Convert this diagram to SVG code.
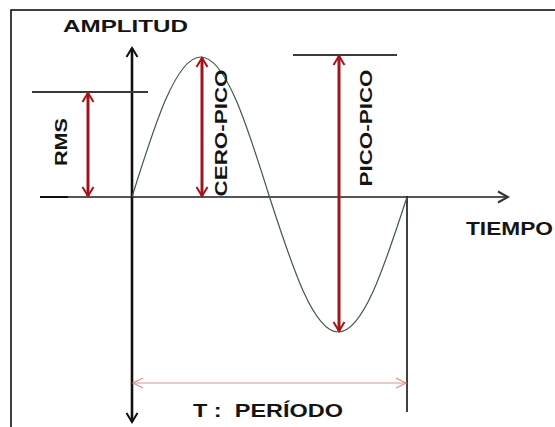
<svg xmlns="http://www.w3.org/2000/svg" width="555" height="427" viewBox="0 0 555 427">
<style>
text{font-family:"Liberation Sans",Arial,sans-serif;font-weight:bold;fill:#141414;}
.red{stroke:#a3141a;stroke-width:3;fill:none;marker-start:url(#ra);marker-end:url(#ra);}
.ref{stroke:#3a3a3a;stroke-width:2;fill:none;}
</style>
<defs>
<marker id="ra" viewBox="-11 -7 13 14" markerWidth="13" markerHeight="14" refX="0" refY="0" orient="auto-start-reverse" markerUnits="userSpaceOnUse">
<path d="M-9 -5.5 L0 0 L-9 5.5" fill="none" stroke="#a3141a" stroke-width="2"/>
</marker>
<marker id="ka" viewBox="-11 -7 13 14" markerWidth="13" markerHeight="14" refX="0" refY="0" orient="auto-start-reverse" markerUnits="userSpaceOnUse">
<path d="M-9 -5.5 L0 0 L-9 5.5" fill="none" stroke="#111" stroke-width="2"/>
</marker>
<marker id="ga" viewBox="-11 -7 13 14" markerWidth="13" markerHeight="14" refX="0" refY="0" orient="auto" markerUnits="userSpaceOnUse">
<path d="M-10 -5.5 L0 0 L-10 5.5" fill="none" stroke="#333" stroke-width="2"/>
</marker>
<marker id="pa" viewBox="-11 -7 13 14" markerWidth="13" markerHeight="14" refX="0" refY="0" orient="auto-start-reverse" markerUnits="userSpaceOnUse">
<path d="M-10 -5 L0 0 L-10 5" fill="none" stroke="#e08a8a" stroke-width="1.2"/>
</marker>
</defs>
<rect x="0" y="0" width="555" height="427" fill="#ffffff"/>
<rect id="frame" x="11" y="10" width="600" height="450" fill="none" stroke="#111" stroke-width="1.6"/>

<g id="axes">
<line x1="40" y1="197" x2="68" y2="197" stroke="#111" stroke-width="2"/>
<line x1="68" y1="197" x2="508" y2="197" stroke="#555" stroke-width="2" marker-end="url(#ga)"/>
<line x1="132" y1="48" x2="132" y2="422" stroke="#111" stroke-width="2.6" marker-start="url(#ka)" marker-end="url(#ka)"/>
<line x1="407" y1="196" x2="407" y2="412" stroke="#111" stroke-width="1.6"/>
</g>

<g id="reference-lines">
<line class="ref" x1="32" y1="92" x2="148" y2="92"/>
<line class="ref" x1="293" y1="55" x2="397" y2="55"/>
</g>

<g id="wave">
<path d="M132 197 C154.42 125.3 175.87 57 200.75 57 C225.63 57 247.08 125.3 269.5 197 C291.92 266.2 313.37 332 338.25 332 C363.13 332 384.58 266.2 407 197" fill="none" stroke="#3f5a43" stroke-width="1.2"/>
</g>

<g id="connectors">
<line class="red" x1="88" y1="93" x2="88" y2="196"/>
<line class="red" x1="202" y1="58" x2="202" y2="196"/>
<line class="red" x1="339" y1="56" x2="339" y2="331"/>
<line x1="133" y1="383" x2="406" y2="383" stroke="#d09a9a" stroke-width="1.2" marker-start="url(#pa)" marker-end="url(#pa)"/>
</g>

<g id="labels">
<text x="63" y="32" font-size="17" textLength="125" lengthAdjust="spacingAndGlyphs">AMPLITUD</text>
<text x="466" y="235" font-size="18" textLength="87" lengthAdjust="spacingAndGlyphs">TIEMPO</text>
<text x="193" y="417" font-size="18" textLength="150" lengthAdjust="spacingAndGlyphs" xml:space="preserve">T :  PERÍODO</text>
<text transform="translate(67,142) rotate(-90)" text-anchor="middle" font-size="17" textLength="48" lengthAdjust="spacingAndGlyphs">RMS</text>
<text transform="translate(227,133) rotate(-90)" text-anchor="middle" font-size="17" textLength="127" lengthAdjust="spacingAndGlyphs">CERO-PICO</text>
<text transform="translate(372,128) rotate(-90)" text-anchor="middle" font-size="17" textLength="117" lengthAdjust="spacingAndGlyphs">PICO-PICO</text>
</g>
</svg>
